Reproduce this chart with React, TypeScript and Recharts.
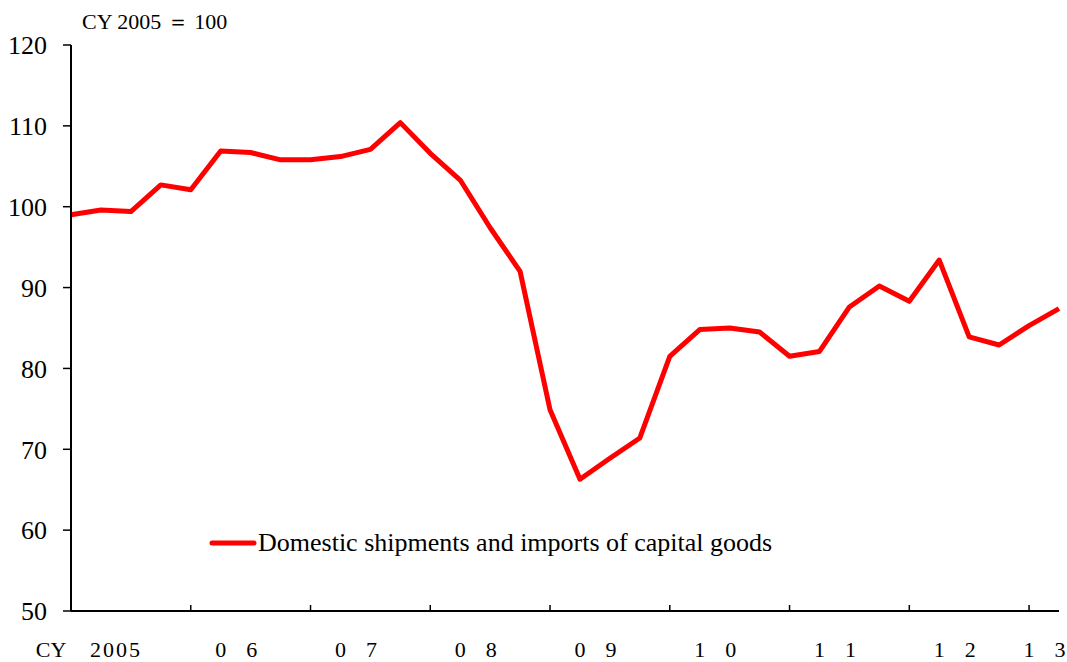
import React from "react";
import {
  LineChart,
  Line,
  XAxis,
  YAxis,
  Legend,
} from "recharts";

// Quarterly index, CY2005 = 100 (2005Q1 .. 2013Q2)
const YEARS = ["2005", "06", "07", "08", "09", "10", "11", "12", "13"];
const VALUES = [
  99.0, 99.6, 99.4, 102.7,
  102.1, 106.9, 106.7, 105.8,
  105.8, 106.2, 107.1, 110.4,
  106.6, 103.3, 97.4, 92.0,
  74.9, 66.3, 68.9, 71.4,
  81.5, 84.8, 85.0, 84.5,
  81.5, 82.1, 87.6, 90.2,
  88.3, 93.4, 83.9, 82.9,
  85.3, 87.4,
];
const Y_TICKS = [50, 60, 70, 80, 90, 100, 110, 120];
const SERIES_NAME = "Domestic shipments and imports of capital goods";

const data = VALUES.map((v, i) => ({ q: i, value: v }));
const last = VALUES.length - 1;
const yearTicks = YEARS.map((_, i) => i * 4).filter((t) => t > 0 && t < last);
const labelTicks = YEARS.map((_, i) => Math.min(i * 4 + 1.5, last - 0.5));

const serif = "'Liberation Serif', 'Times New Roman', serif";

const QuarterTick = ({ x, y }: any) => (
  <line x1={x} y1={y} x2={x} y2={y - 6} stroke="#000" strokeWidth={1.5} />
);

const YearLabel = ({ x, y, payload, index }: any) => {
  const i = labelTicks.indexOf(payload.value);
  const label: string = YEARS[i] ?? "";
  const textStyle = { fontFamily: serif, fontSize: 22 };
  const ty = y + 38;
  return (
    <g>
      {index === 0 && (
        <text x={51} y={ty} textAnchor="middle" style={textStyle} fill="#000">
          CY
        </text>
      )}
      {label.length === 2 ? (
        // two-digit years are drawn with a wide gap between the digits
        <>
          <text x={x - 15} y={ty} textAnchor="middle" style={textStyle} fill="#000">
            {label[0]}
          </text>
          <text x={x + 16} y={ty} textAnchor="middle" style={textStyle} fill="#000">
            {label[1]}
          </text>
        </>
      ) : (
        <text x={x} y={ty} textAnchor="middle" style={{ ...textStyle, letterSpacing: 2 }} fill="#000">
          {label}
        </text>
      )}
    </g>
  );
};

const LegendBox = () => (
  <div style={{ display: "flex", alignItems: "center" }}>
    <svg width={50} height={12}>
      <line x1={4} y1={6} x2={46} y2={6} stroke="#ff0000" strokeWidth={5} strokeLinecap="round" />
    </svg>
    <span style={{ fontFamily: serif, fontSize: 26, color: "#000", whiteSpace: "nowrap" }}>
      {SERIES_NAME}
    </span>
  </div>
);

export default function App() {
  return (
    <div style={{ position: "absolute", left: 0, top: 0, width: 1067, height: 662, background: "#fff" }}>
      <div
        style={{
          position: "absolute",
          left: 82,
          top: 7,
          fontFamily: serif,
          fontSize: 22,
          color: "#000",
          whiteSpace: "nowrap",
        }}
      >
        CY 2005 ＝ 100
      </div>
      <LineChart
        width={1067}
        height={662}
        data={data}
        margin={{ top: 45, right: 8, bottom: 0, left: 0 }}
      >
        <XAxis
          xAxisId="q"
          dataKey="q"
          type="number"
          domain={[0, last]}
          ticks={yearTicks}
          tick={<QuarterTick />}
          tickLine={false}
          tickSize={0}
          tickMargin={0}
          height={8}
          axisLine={{ stroke: "#000", strokeWidth: 2 }}
          interval={0}
        />
        <XAxis
          xAxisId="yr"
          dataKey="q"
          type="number"
          domain={[0, last]}
          ticks={labelTicks}
          tick={<YearLabel />}
          tickLine={false}
          tickSize={0}
          tickMargin={0}
          height={43}
          axisLine={false}
          interval={0}
        />
        <XAxis
          xAxisId="top"
          dataKey="q"
          type="number"
          domain={[0, last]}
          orientation="top"
          tick={false}
          tickLine={false}
          height={0}
          axisLine={{ stroke: "#000", strokeWidth: 2 }}
        />
        <YAxis
          yAxisId="left"
          domain={[50, 120]}
          ticks={Y_TICKS}
          width={71}
          tickSize={8}
          tickMargin={16}
          interval={0}
          tick={{ fill: "#000", fontSize: 26, style: { fontFamily: serif } }}
          tickLine={{ stroke: "#000", strokeWidth: 1.5 }}
          axisLine={{ stroke: "#000", strokeWidth: 2 }}
        />
        <YAxis
          yAxisId="right"
          orientation="right"
          domain={[50, 120]}
          width={0}
          tick={false}
          tickLine={false}
          axisLine={{ stroke: "#000", strokeWidth: 2 }}
        />
        <Legend
          layout="horizontal"
          verticalAlign="middle"
          align="center"
          content={<LegendBox />}
          wrapperStyle={{ left: 208, top: 528, width: "auto" }}
        />
        <Line
          xAxisId="q"
          yAxisId="left"
          type="linear"
          dataKey="value"
          name={SERIES_NAME}
          stroke="#ff0000"
          strokeWidth={5}
          strokeLinejoin="round"
          dot={false}
          activeDot={false}
          isAnimationActive={false}
        />
      </LineChart>
    </div>
  );
}
